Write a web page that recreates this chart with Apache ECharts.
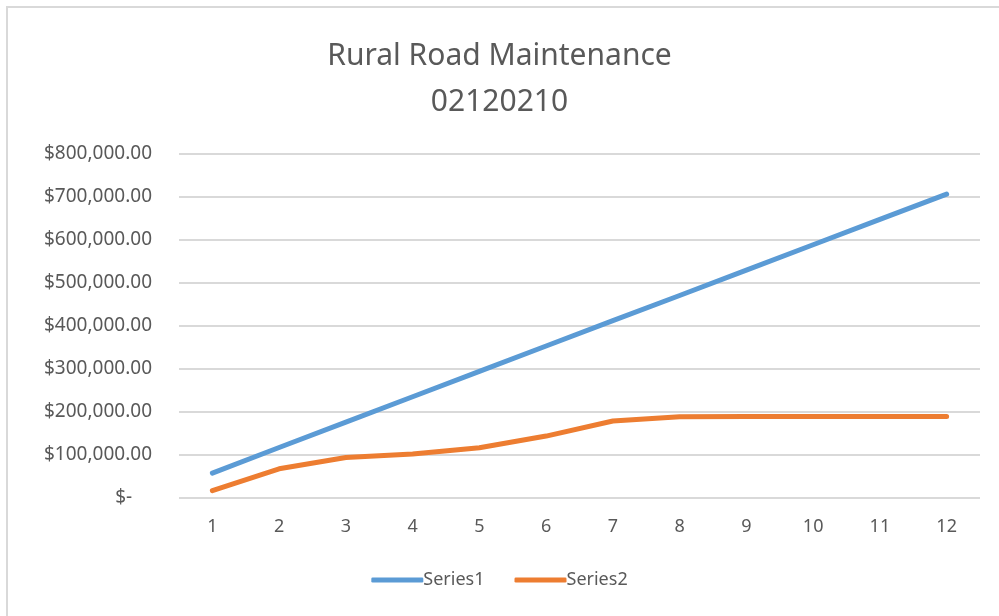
<!DOCTYPE html>
<html>
<head>
<meta charset="utf-8">
<script src="https://cdn.jsdelivr.net/npm/echarts@6/dist/echarts.min.js"></script>
<style>
    html, body { margin: 0; padding: 0; background: #fff; }
    #main { width: 999px; height: 616px; }
</style>
</head>
<body>
<div id="main"></div>
<script>
// months along the x axis
var months = ['1', '2', '3', '4', '5', '6', '7', '8', '9', '10', '11', '12'];
// values
var series1 = [58000, 117500, 176500, 235500, 294500, 353500, 412500, 471000, 530000, 589000, 648000, 706500];
var series2 = [17000, 68000, 94000, 102500, 117000, 144000, 179000, 189000, 189500, 189500, 189500, 189500];
var seriesNames = ['Series1', 'Series2'];

var chart = echarts.init(document.getElementById('main'));
var textColor = '#595959';
var fontName = '"Noto Sans", "Open Sans", sans-serif';

function money(v) {
    if (v === 0) return '$-    ';
    return '$' + v.toLocaleString('en-US', { minimumFractionDigits: 2, maximumFractionDigits: 2 });
}

var option = {
    animation: false,
    color: ['#5b9bd5', '#ed7d31'],
    title: {
        text: 'Rural Road Maintenance\n02120210',
        left: 'center',
        top: 28,
        textStyle: {
            color: textColor,
            fontFamily: fontName,
            fontWeight: 'normal',
            fontSize: 30,
            lineHeight: 46
        }
    },
    graphic: [{
        type: 'rect',
        shape: { x: 7, y: 7, width: 1100, height: 700 },
        style: { fill: 'none', stroke: '#d9d9d9', lineWidth: 2 },
        silent: true
    }],
    legend: {
        bottom: 22,
        left: 'center',
        itemWidth: 52,
        itemHeight: 5,
        itemGap: 30,
        icon: 'roundRect',
        textStyle: { color: textColor, fontFamily: fontName, fontSize: 18, padding: [0, 0, 0, -5] },
        data: seriesNames
    },
    grid: {
        left: 179,
        top: 154,
        width: 801,
        height: 344,
        containLabel: false
    },
    xAxis: {
        type: 'category',
        data: months,
        boundaryGap: true,
        axisLine: { show: false },
        axisTick: { show: false },
        axisLabel: { color: textColor, fontFamily: fontName, fontSize: 18, margin: 20 }
    },
    yAxis: {
        type: 'value',
        min: 0,
        max: 800000,
        interval: 100000,
        axisLine: { show: false },
        axisTick: { show: false },
        splitLine: { lineStyle: { color: '#d9d9d9', width: 2 } },
        axisLabel: {
            color: textColor,
            fontFamily: fontName,
            fontSize: 19,
            margin: 27,
            formatter: money
        }
    },
    series: [
        {
            name: seriesNames[0],
            type: 'line',
            data: series1,
            symbol: 'none',
            lineStyle: { width: 5, cap: 'round', join: 'round' }
        },
        {
            name: seriesNames[1],
            type: 'line',
            data: series2,
            symbol: 'none',
            lineStyle: { width: 5, cap: 'round', join: 'round' }
        }
    ]
};
chart.setOption(option);
</script>
</body>
</html>
